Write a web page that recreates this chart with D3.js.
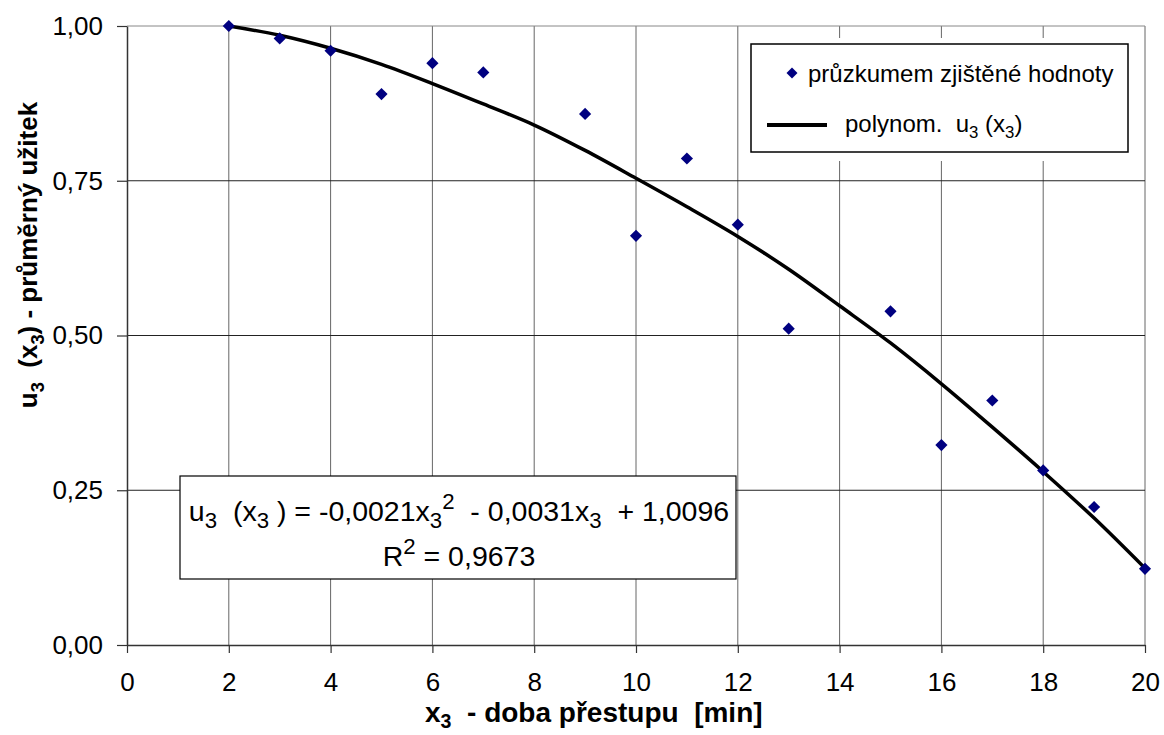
<!DOCTYPE html>
<html>
<head>
<meta charset="utf-8">
<script src="https://cdn.jsdelivr.net/npm/d3@7"></script>
<style>
  body { margin: 0; background: #fff; }
  svg { display: block; font-family: "Liberation Sans", Arial, sans-serif; }
</style>
</head>
<body>
<svg id="chart" width="1164" height="735"></svg>
<script>
// measured values (průzkum)
const xValues = [2, 3, 4, 5, 6, 7, 9, 10, 11, 12, 13, 15, 16, 17, 18, 19, 20];
const uValues = [1.000, 0.980, 0.960, 0.890, 0.940, 0.925, 0.858, 0.661, 0.786, 0.679, 0.511, 0.539, 0.323, 0.395, 0.282, 0.223, 0.123];

// trend line
const trendX = [2, 3, 4, 5, 6, 7, 8, 9, 10, 11, 12, 13, 14, 15, 16, 17, 18, 19, 20];
const trendU = [1.000, 0.985, 0.964, 0.938, 0.907, 0.874, 0.840, 0.799, 0.754, 0.708, 0.660, 0.607, 0.548, 0.488, 0.422, 0.352, 0.280, 0.205, 0.124];

const xTicks = [0, 2, 4, 6, 8, 10, 12, 14, 16, 18, 20];
const yTicks = [0, 0.25, 0.5, 0.75, 1];

const svg = d3.select("#chart");
const x = d3.scaleLinear().domain([0, 20]).range([127, 1145]);
const y = d3.scaleLinear().domain([0, 1]).range([645, 26]);
const fmt = d => d3.format(".2f")(d).replace(".", ",");

// rich text with sub/superscripts
function rich(textSel, parts, size, scale = 0.7, subShift = 0.26) {
  let shift = 0;
  parts.forEach(([t, kind]) => {
    const target = kind === "sub" ? size * subShift : kind === "sup" ? -size * 0.42 : 0;
    const ts = textSel.append("tspan").text(t).attr("dy", target - shift);
    if (kind) ts.attr("font-size", size * scale);
    shift = target;
  });
}

// gridlines
svg.append("g").selectAll("line").data(xTicks.filter(d => d > 0)).join("line")
  .attr("x1", d => x(d)).attr("x2", d => x(d))
  .attr("y1", y(1)).attr("y2", y(0))
  .attr("stroke", "#666").attr("stroke-width", 1);
svg.append("g").selectAll("line").data(yTicks.filter(d => d > 0)).join("line")
  .attr("x1", x(0)).attr("x2", x(20))
  .attr("y1", d => y(d)).attr("y2", d => y(d))
  .attr("stroke", d => d === 1 ? "#888" : "#222").attr("stroke-width", 1);

// axes
const xAxis = svg.append("g").attr("transform", `translate(0,${y(0)})`)
  .call(d3.axisBottom(x).tickValues(xTicks).tickSizeInner(8).tickSizeOuter(0).tickPadding(20));
const yAxis = svg.append("g").attr("transform", `translate(${x(0)},0)`)
  .call(d3.axisLeft(y).tickValues(yTicks).tickFormat(fmt).tickSizeInner(10).tickSizeOuter(0).tickPadding(14));
[xAxis, yAxis].forEach(a => {
  a.select(".domain").attr("stroke", "#333").attr("stroke-width", 1.5);
  a.selectAll(".tick line").attr("stroke", "#333").attr("stroke-width", 1.2);
  a.selectAll("text").attr("font-family", "Liberation Sans, Arial, sans-serif")
    .attr("font-size", 26).attr("fill", "#000");
});

// trend line
svg.append("path")
  .datum(trendX.map((d, i) => [d, trendU[i]]))
  .attr("fill", "none").attr("stroke", "#000").attr("stroke-width", 3.5)
  .attr("d", d3.line().x(d => x(d[0])).y(d => y(d[1])).curve(d3.curveMonotoneX));

// markers
const diamond = d3.symbol().type(d3.symbolSquare).size(74);
svg.append("g").selectAll("path").data(xValues).join("path")
  .attr("d", diamond)
  .attr("transform", (d, i) => `translate(${x(d)},${y(uValues[i])}) rotate(45)`)
  .attr("fill", "#000080");

// legend
svg.append("rect").attr("x", 740).attr("y", 38).attr("width", 400).attr("height", 123).attr("fill", "#fff");
svg.append("rect").attr("x", 751).attr("y", 44).attr("width", 377).attr("height", 108)
  .attr("fill", "#fff").attr("stroke", "#000").attr("stroke-width", 1.5);
svg.append("path").attr("d", d3.symbol().type(d3.symbolSquare).size(60))
  .attr("transform", "translate(792,73) rotate(45)").attr("fill", "#000080");
svg.append("text").attr("x", 808).attr("y", 82).attr("font-size", 24).text("průzkumem zjištěné hodnoty");
svg.append("line").attr("x1", 767).attr("x2", 827).attr("y1", 125).attr("y2", 125)
  .attr("stroke", "#000").attr("stroke-width", 4);
rich(svg.append("text").attr("x", 845).attr("y", 132).attr("font-size", 24).attr("xml:space", "preserve"),
  [["polynom.  u"], ["3", "sub"], [" (x"], ["3", "sub"], [")"]], 24);

// equation box
svg.append("rect").attr("x", 180).attr("y", 476).attr("width", 556).attr("height", 103)
  .attr("fill", "#fff").attr("stroke", "#000").attr("stroke-width", 1.2);
rich(svg.append("text").attr("x", 459).attr("y", 521).attr("font-size", 28.5).attr("text-anchor", "middle").attr("xml:space", "preserve"),
  [["u"], ["3", "sub"], ["  (x"], ["3", "sub"], [" ) = -0,0021x"], ["3", "sub"], ["2", "sup"], ["  - 0,0031x"], ["3", "sub"], ["  + 1,0096"]], 28.5, 0.78);
rich(svg.append("text").attr("x", 459).attr("y", 566).attr("font-size", 28.5).attr("text-anchor", "middle"),
  [["R"], ["2", "sup"], [" = 0,9673"]], 28.5, 0.78);

// axis titles
rich(svg.append("text").attr("x", 425).attr("y", 722).attr("font-size", 28).attr("font-weight", "bold").attr("xml:space", "preserve"),
  [["x"], ["3", "sub"], ["  - doba přestupu  [min]"]], 28, 0.7, 0.2);
rich(svg.append("text").attr("transform", "translate(37,255) rotate(-90)").attr("text-anchor", "middle")
  .attr("font-size", 26).attr("font-weight", "bold").attr("xml:space", "preserve"),
  [["u"], ["3", "sub"], ["  (x"], ["3", "sub"], [") - průměrný užitek"]], 26);
</script>
</body>
</html>
